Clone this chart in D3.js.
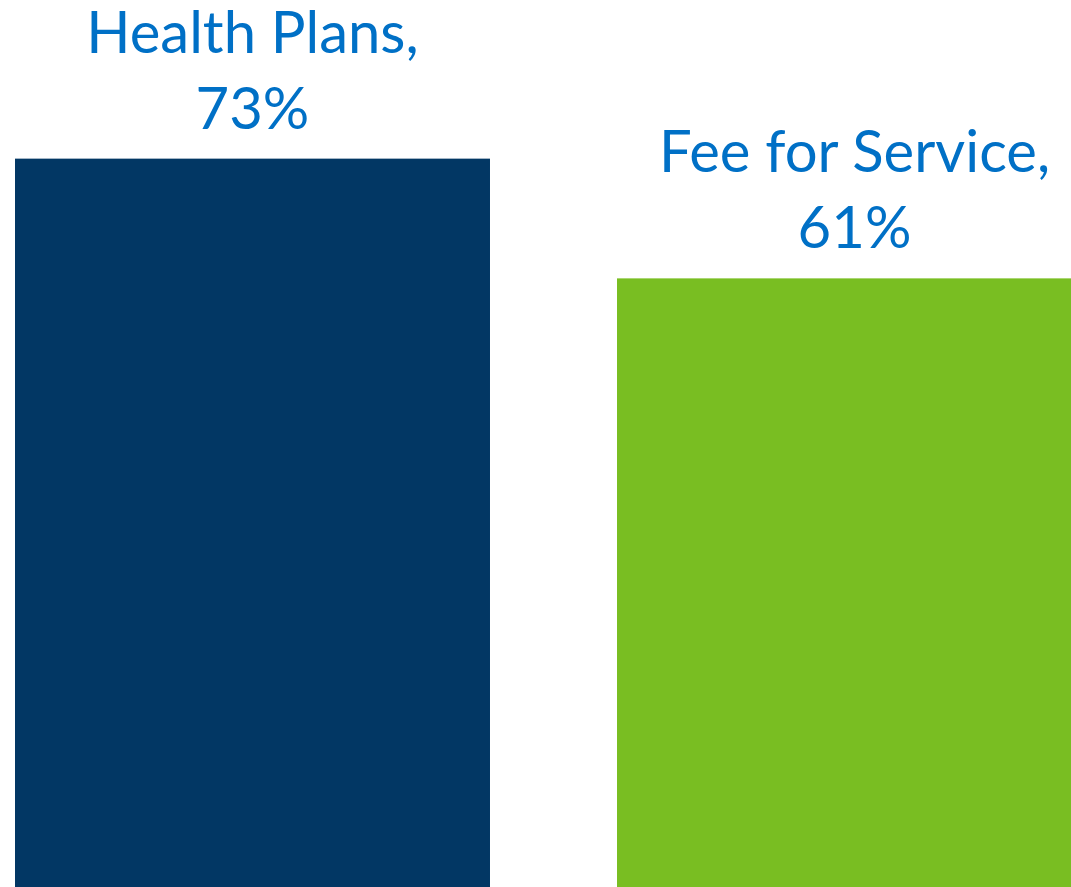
<!DOCTYPE html>
<html>
<head>
<meta charset="utf-8">
<script src="https://cdn.jsdelivr.net/npm/d3@7"></script>
<style>
  html, body { margin: 0; padding: 0; background: #fff; overflow: hidden; }
  .label { font-family: Lato, "Open Sans", sans-serif; fill: #0070C6; }
</style>
</head>
<body>
<div class="chart"></div>
<script>
var svgWidth = 1071;
var svgHeight = 887;

// chart data
var categories = ["Health Plans", "Fee for Service"];
var values = [73, 61];
var colors = ["#023764", "#79BE22"];

var svg = d3.select(".chart")
  .append("svg")
  .attr("width", svgWidth)
  .attr("height", svgHeight);

// band scale runs past the right edge, the second bar is cut off like the original
var xScale = d3.scaleBand()
  .domain(categories)
  .range([15, 1092])
  .paddingInner(0.211)
  .paddingOuter(0);

var yScale = d3.scaleLinear()
  .domain([0, 88.9])
  .range([svgHeight, 0]);

var data = categories.map((c, i) => ({ name: c, value: values[i], color: colors[i] }));

svg.selectAll("rect")
  .data(data)
  .enter()
  .append("rect")
  .attr("x", d => xScale(d.name))
  .attr("y", d => yScale(d.value))
  .attr("width", xScale.bandwidth())
  .attr("height", d => svgHeight - yScale(d.value))
  .attr("fill", d => d.color);

var labels = svg.selectAll(".label")
  .data(data)
  .enter()
  .append("text")
  .attr("class", "label")
  .attr("text-anchor", "middle")
  .attr("font-size", 58);

labels.append("tspan")
  .attr("x", d => xScale(d.name) + xScale.bandwidth() / 2)
  .attr("y", d => yScale(d.value) - 106)
  .text(d => d.name + ",");

labels.append("tspan")
  .attr("x", d => xScale(d.name) + xScale.bandwidth() / 2)
  .attr("y", d => yScale(d.value) - 30)
  .text(d => d.value + "%");
</script>
</body>
</html>
